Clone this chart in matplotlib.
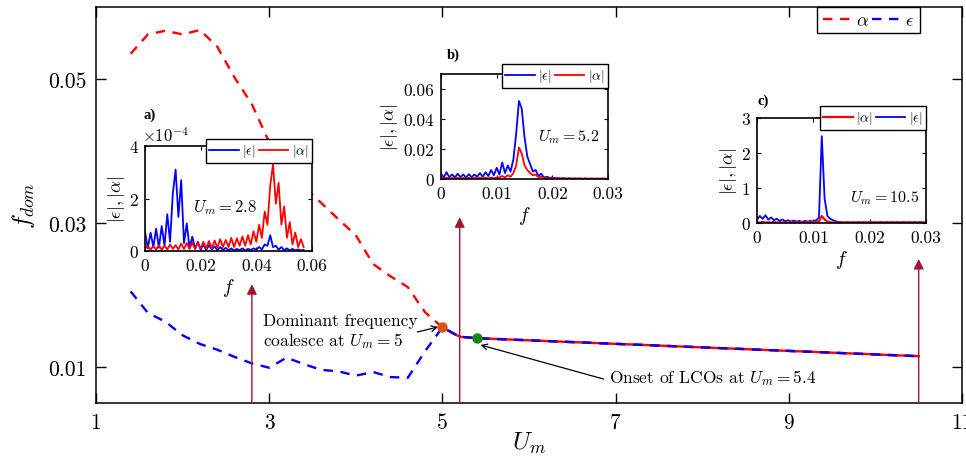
import numpy as np
import matplotlib.pyplot as plt

plt.rcParams['font.family'] = 'cmr10'
plt.rcParams['mathtext.fontset'] = 'cm'
plt.rcParams['axes.unicode_minus'] = False
plt.rcParams['axes.formatter.use_mathtext'] = True

# ---------------- main curve data ----------------
U_m = [1.4, 1.6, 1.8, 2.0, 2.2, 2.4, 2.6, 2.8, 3.0, 3.2, 3.4, 3.6, 3.8, 4.0,
       4.2, 4.4, 4.6, 4.8, 5.0, 5.2, 5.4, 10.5]
f_alpha = [0.0535, 0.0562, 0.0567, 0.0562, 0.0568, 0.0545, 0.0502, 0.0465, 0.0412,
           0.0375, 0.0350, 0.0328, 0.0305, 0.0283, 0.0243, 0.0226, 0.0211, 0.0176,
           0.0155, 0.0142, 0.0140, 0.0115]
f_eps = [0.0205, 0.0175, 0.0163, 0.0144, 0.0132, 0.0124, 0.0114, 0.0105, 0.0099,
         0.0113, 0.0104, 0.0096, 0.0094, 0.0088, 0.0093, 0.0086, 0.0085, 0.0122,
         0.0155, 0.0142, 0.0140, 0.0115]
i_coal = 18  # U_m = 5

coal_pt = (5.0, 0.0155)
lco_pt = (5.4, 0.0140)

arrow_U = [2.8, 5.2, 10.5]
arrow_tip = [0.0215, 0.0308, 0.0250]

# ---------------- inset a) U_m = 2.8 ----------------
f_a = [0.000, 0.001, 0.002, 0.003, 0.004, 0.005, 0.006, 0.007, 0.008, 0.009,
       0.010, 0.011, 0.012, 0.013, 0.014, 0.015, 0.016, 0.017, 0.018, 0.019,
       0.020, 0.021, 0.022, 0.023, 0.024, 0.025, 0.026, 0.027, 0.028, 0.029,
       0.030, 0.031, 0.032, 0.033, 0.034, 0.035, 0.036, 0.037, 0.038, 0.039,
       0.040, 0.041, 0.042, 0.043, 0.044, 0.045, 0.046, 0.047, 0.048, 0.049,
       0.050, 0.051, 0.052, 0.053, 0.054, 0.055, 0.056, 0.057]
eps_a = [0.75, 0.10, 0.70, 0.15, 0.85, 0.12, 0.95, 0.20, 1.40, 0.35,
         2.20, 3.10, 1.30, 2.70, 0.30, 1.05, 0.10, 0.55, 0.08, 0.35,
         0.05, 0.25, 0.04, 0.22, 0.05, 0.18, 0.03, 0.15, 0.04, 0.12,
         0.03, 0.10, 0.02, 0.08, 0.03, 0.10, 0.02, 0.08, 0.04, 0.10,
         0.05, 0.15, 0.06, 0.25, 0.20, 0.60, 0.15, 0.20, 0.05, 0.15,
         0.03, 0.10, 0.02, 0.08, 0.02, 0.06, 0.02, 0.04]
alp_a = [0.10, 0.20, 0.05, 0.18, 0.06, 0.22, 0.05, 0.20, 0.06, 0.25,
         0.08, 0.22, 0.06, 0.28, 0.08, 0.30, 0.08, 0.32, 0.08, 0.30,
         0.10, 0.35, 0.10, 0.38, 0.10, 0.40, 0.12, 0.45, 0.15, 0.42,
         0.15, 0.50, 0.15, 0.48, 0.20, 0.55, 0.20, 0.60, 0.25, 0.75,
         0.35, 1.00, 0.50, 1.50, 1.00, 2.50, 3.30, 1.80, 2.60, 1.00,
         1.70, 0.50, 1.10, 0.25, 0.70, 0.15, 0.45, 0.15]

# ---------------- insets b) U_m = 5.2 and c) U_m = 10.5 ----------------
f_bc = [0.0000, 0.0005, 0.0010, 0.0015, 0.0020, 0.0025, 0.0030, 0.0035, 0.0040, 0.0045,
        0.0050, 0.0055, 0.0060, 0.0065, 0.0070, 0.0075, 0.0080, 0.0085, 0.0090, 0.0095,
        0.0100, 0.0105, 0.0110, 0.0115, 0.0120, 0.0125, 0.0130, 0.0135, 0.0140, 0.0145,
        0.0150, 0.0155, 0.0160, 0.0165, 0.0170, 0.0175, 0.0180, 0.0185, 0.0190, 0.0195,
        0.0200, 0.0205, 0.0210, 0.0215, 0.0220, 0.0225, 0.0230, 0.0235, 0.0240, 0.0245,
        0.0250, 0.0255, 0.0260, 0.0265, 0.0270, 0.0275, 0.0280, 0.0285, 0.0290, 0.0295,
        0.0300]
eps_b = [0.0035, 0.0010, 0.0045, 0.0012, 0.0030, 0.0010, 0.0035, 0.0012, 0.0030, 0.0010,
         0.0032, 0.0012, 0.0030, 0.0015, 0.0040, 0.0015, 0.0045, 0.0020, 0.0060, 0.0025,
         0.0075, 0.0030, 0.0110, 0.0040, 0.0090, 0.0050, 0.0130, 0.0300, 0.0520, 0.0470,
         0.0280, 0.0150, 0.0100, 0.0050, 0.0060, 0.0020, 0.0035, 0.0010, 0.0015, 0.0008,
         0.0010, 0.0005, 0.0006, 0.0003, 0.0005, 0.0002, 0.0004, 0.0002, 0.0003, 0.0002,
         0.0003, 0.0001, 0.0003, 0.0001, 0.0002, 0.0001, 0.0002, 0.0001, 0.0002, 0.0001,
         0.0001]
alp_b = [0.0008, 0.0003, 0.0008, 0.0003, 0.0007, 0.0003, 0.0008, 0.0003, 0.0007, 0.0003,
         0.0008, 0.0003, 0.0008, 0.0004, 0.0009, 0.0004, 0.0009, 0.0004, 0.0010, 0.0005,
         0.0010, 0.0010, 0.0020, 0.0010, 0.0025, 0.0015, 0.0040, 0.0090, 0.0210, 0.0170,
         0.0090, 0.0060, 0.0040, 0.0025, 0.0030, 0.0012, 0.0015, 0.0008, 0.0006, 0.0003,
         0.0006, 0.0003, 0.0005, 0.0003, 0.0005, 0.0002, 0.0004, 0.0002, 0.0004, 0.0002,
         0.0003, 0.0002, 0.0003, 0.0002, 0.0003, 0.0002, 0.0003, 0.0002, 0.0003, 0.0002,
         0.0002]
eps_c = [0.10, 0.20, 0.12, 0.22, 0.10, 0.16, 0.08, 0.12, 0.06, 0.10,
         0.05, 0.08, 0.04, 0.07, 0.04, 0.06, 0.03, 0.06, 0.04, 0.06,
         0.04, 0.08, 0.15, 2.48, 0.70, 0.20, 0.12, 0.08, 0.05, 0.03,
         0.02, 0.01, 0.02, 0.01, 0.02, 0.01, 0.02, 0.01, 0.02, 0.01,
         0.02, 0.01, 0.02, 0.01, 0.02, 0.01, 0.02, 0.01, 0.02, 0.01,
         0.02, 0.01, 0.02, 0.01, 0.02, 0.01, 0.02, 0.01, 0.02, 0.01,
         0.01]
alp_c = [0.02, 0.01, 0.03, 0.01, 0.02, 0.01, 0.03, 0.01, 0.02, 0.01,
         0.02, 0.01, 0.03, 0.01, 0.02, 0.01, 0.02, 0.01, 0.03, 0.01,
         0.02, 0.02, 0.05, 0.20, 0.10, 0.04, 0.02, 0.01, 0.02, 0.01,
         0.02, 0.01, 0.02, 0.01, 0.02, 0.01, 0.02, 0.01, 0.02, 0.01,
         0.02, 0.01, 0.02, 0.01, 0.02, 0.01, 0.02, 0.01, 0.02, 0.01,
         0.02, 0.01, 0.02, 0.01, 0.02, 0.01, 0.02, 0.01, 0.02, 0.01,
         0.01]

# -------------------------------------- #
# main axes
# -------------------------------------- #
fig = plt.figure(figsize=(9.66, 4.64), dpi=100)
ax = fig.add_axes([96 / 966, 60 / 464, 866 / 966, 396 / 464])

ax.plot(U_m, f_alpha, color='red', lw=1.7, dashes=(4, 3.2), label=r'$\alpha$')
ax.plot(U_m[i_coal:], f_alpha[i_coal:], color='red', lw=1.7)
ax.plot(U_m, f_eps, color='blue', lw=1.7, dashes=(4, 3.2), label=r'$\epsilon$')
ax.plot(*coal_pt, 'o', color='#D95319', ms=6.5, zorder=5)
ax.plot(*lco_pt, 'o', color='#118811', ms=6.5, zorder=5)

for u, tip in zip(arrow_U, arrow_tip):
    ax.annotate('', xy=(u, tip), xytext=(u, 0.005),
                arrowprops=dict(arrowstyle='-|>', color='#A2142F', lw=1.0,
                                mutation_scale=15, shrinkA=0, shrinkB=0))

ax.text(2.93, 0.01493, 'Dominant frequency\ncoalesce at $U_m = 5$',
        ha='left', va='center', fontsize=12.5, linespacing=1.15)
ax.annotate('', xy=(4.95, 0.01556), xytext=(4.71, 0.01486),
            arrowprops=dict(arrowstyle='->', color='black', lw=0.9, shrinkA=0, shrinkB=0))
ax.text(6.92, 0.00861, 'Onset of LCOs at $U_m = 5.4$', ha='left', va='center', fontsize=12.5)
ax.annotate('', xy=(5.44, 0.01306), xytext=(6.86, 0.00833),
            arrowprops=dict(arrowstyle='->', color='black', lw=0.9, shrinkA=0, shrinkB=0))

ax.set_xlim(1, 11)
ax.set_ylim(0.005, 0.06)
ax.set_xticks([1, 3, 5, 7, 9, 11])
ax.set_xticklabels(['1', '3', '5', '7', '9', '11'])
ax.set_yticks([0.01, 0.03, 0.05])
ax.set_yticklabels(['0.01', '0.03', '0.05'])
ax.tick_params(direction='in', top=True, right=True, length=7, width=1.0,
               labelsize=15.5, pad=7)
for s in ax.spines.values():
    s.set_linewidth(1.1)
ax.set_xlabel('$U_m$', fontsize=18, labelpad=-2)
ax.set_ylabel('$f_{dom}$', fontsize=18, labelpad=8)

leg = ax.legend(ncol=2, loc='upper right', bbox_to_anchor=(0.951, 1.0), borderaxespad=0,
                fontsize=13, handlelength=1.7, handletextpad=0.15, columnspacing=0.15,
                borderpad=0.3, fancybox=False, framealpha=1, edgecolor='black')
leg.get_frame().set_linewidth(1.0)


# -------------------------------------- #
# insets
# -------------------------------------- #
def style_inset(a, xt, xtl, yt, ytl, xmax, ymax):
    a.set_xlim(0, xmax)
    a.set_ylim(0, ymax)
    a.set_xticks(xt)
    a.set_xticklabels(xtl)
    a.set_yticks(yt)
    a.set_yticklabels(ytl)
    a.tick_params(direction='in', top=True, right=True, length=3, width=0.8,
                  labelsize=12.5, pad=5)
    for s in a.spines.values():
        s.set_linewidth(1.2)
    a.set_xlabel('$f$', fontsize=14, labelpad=2)
    a.set_ylabel(r'$|\epsilon|,|\alpha|$', fontsize=13, labelpad=2)


def inset_legend(a, handles, up):
    lg = a.legend(handles=handles, ncol=2, loc='upper right', bbox_to_anchor=(1.0, up),
                  borderaxespad=0, fontsize=10, handlelength=2.1, handletextpad=0.25,
                  columnspacing=0.25, borderpad=0.25, fancybox=False, framealpha=1,
                  edgecolor='black')
    lg.get_frame().set_linewidth(1.0)


# a)
axa = fig.add_axes([145 / 966, 212 / 464, 167 / 966, 105 / 464])
la, = axa.plot(f_a, np.array(eps_a) * 1e-4, color='blue', lw=1.3, label=r'$|\epsilon|$')
lb, = axa.plot(f_a, np.array(alp_a) * 1e-4, color='red', lw=1.3, label=r'$|\alpha|$')
style_inset(axa, [0, 0.02, 0.04, 0.06], ['0', '0.02', '0.04', '0.06'],
            [0, 2e-4, 4e-4], ['0', '2', '4'], 0.06, 4e-4)
inset_legend(axa, [la, lb], 1 + 7 / 105)
axa.text(-0.02, 1.02, r'$\times10^{-4}$', transform=axa.transAxes, fontsize=12,
         ha='left', va='bottom')
axa.text(0.29, 0.42, '$U_m = 2.8$', transform=axa.transAxes, fontsize=12,
         ha='left', va='center')

# b)
axb = fig.add_axes([441 / 966, 284 / 464, 167 / 966, 105 / 464])
lb1, = axb.plot(f_bc, eps_b, color='blue', lw=1.3, label=r'$|\epsilon|$')
lb2, = axb.plot(f_bc, alp_b, color='red', lw=1.3, label=r'$|\alpha|$')
style_inset(axb, [0, 0.01, 0.02, 0.03], ['0', '0.01', '0.02', '0.03'],
            [0, 0.02, 0.04, 0.06], ['0', '0.02', '0.04', '0.06'], 0.03, 0.07)
inset_legend(axb, [lb1, lb2], 1 + 10 / 105)
axb.text(0.95, 0.41, '$U_m = 5.2$', transform=axb.transAxes, fontsize=11.5,
         ha='right', va='center')

# c)
axc = fig.add_axes([757 / 966, 240 / 464, 169 / 966, 105 / 464])
lc1, = axc.plot(f_bc, eps_c, color='blue', lw=1.3, label=r'$|\epsilon|$')
lc2, = axc.plot(f_bc, alp_c, color='red', lw=1.6, label=r'$|\alpha|$')
style_inset(axc, [0, 0.01, 0.02, 0.03], ['0', '0.01', '0.02', '0.03'],
            [0, 1, 2, 3], ['0', '1', '2', '3'], 0.03, 3)
inset_legend(axc, [lc2, lc1], 1 + 12 / 105)
axc.text(0.96, 0.25, '$U_m = 10.5$', transform=axc.transAxes, fontsize=11.5,
         ha='right', va='center')

for lab, x, y in [('a)', 143, 115), ('b)', 447, 55), ('c)', 758, 101)]:
    fig.text(x / 966, 1 - y / 464, lab, fontsize=10.5, fontweight='bold',
             family='Liberation Serif', ha='left', va='center')

plt.savefig('out.png', dpi=100)
